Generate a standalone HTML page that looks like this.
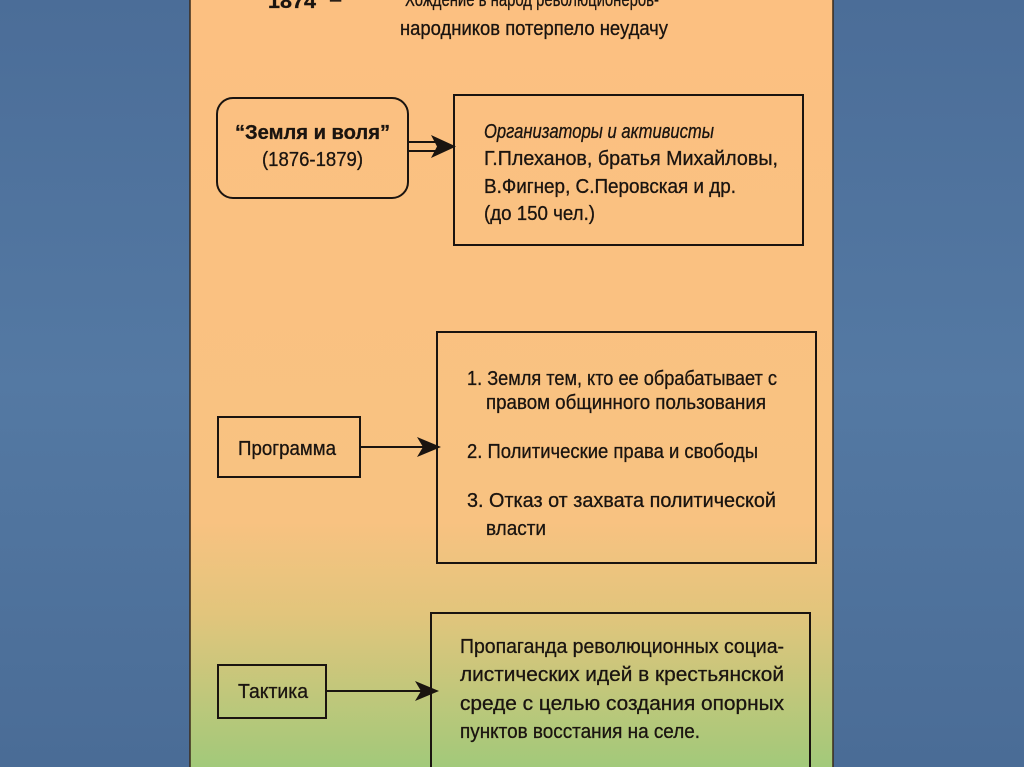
<!DOCTYPE html>
<html><head><meta charset="utf-8">
<style>
html,body{margin:0;padding:0;width:1024px;height:767px;overflow:hidden;background:#4d7099;}
svg{display:block}
text{font-family:"Liberation Sans Narrow","Liberation Sans",sans-serif;fill:#1a1410;font-size:20px;stroke:#1a1410;stroke-width:0.3;}
</style></head><body>
<svg width="1024" height="767" viewBox="0 0 1024 767" xmlns="http://www.w3.org/2000/svg">
<defs>
<linearGradient id="bg" x1="0" y1="0" x2="0" y2="1">
<stop offset="0" stop-color="#4b6d98"/><stop offset="0.5" stop-color="#5479a3"/><stop offset="1" stop-color="#4a6c96"/>
</linearGradient>
<linearGradient id="pn" x1="0" y1="0" x2="0" y2="767" gradientUnits="userSpaceOnUse">
<stop offset="0" stop-color="#fcc081"/>
<stop offset="0.68" stop-color="#f8c281"/>
<stop offset="0.8" stop-color="#e2c57c"/>
<stop offset="1" stop-color="#a2c97a"/>
</linearGradient>
</defs>
<rect width="1024" height="767" fill="url(#bg)"/>
<rect x="190" y="-2" width="643" height="772" fill="url(#pn)" stroke="#3a2a1a" stroke-width="1.5"/>

<g stroke="#1a1410" stroke-width="2" fill="none">
<rect x="217" y="98" width="191" height="100" rx="16"/>
<rect x="454" y="95" width="349" height="150"/>
<rect x="437" y="332" width="379" height="231"/>
<rect x="218" y="417" width="142" height="60"/>
<rect x="218" y="665" width="108" height="53"/>
<rect x="431" y="613" width="379" height="170"/>
<line x1="408" y1="142" x2="436" y2="142"/>
<line x1="408" y1="151" x2="436" y2="151"/>
<line x1="360" y1="447" x2="425" y2="447"/>
<line x1="326" y1="691" x2="424" y2="691"/>
</g>
<g fill="#1a1410">
<polygon points="431,135 456,146.5 431,158 437,146.5"/>
<polygon points="417,437 441,447 417,457 423,447"/>
<polygon points="415,681 439,691 415,701 421,691"/>
</g>

<text x="268" y="8" font-weight="bold" textLength="48" lengthAdjust="spacingAndGlyphs">1874</text>
<text x="330" y="6">–</text>
<text x="405" y="6" textLength="254" lengthAdjust="spacingAndGlyphs">Хождение в народ революционеров-</text>
<text x="400" y="35" textLength="268" lengthAdjust="spacingAndGlyphs">народников потерпело неудачу</text>

<text x="235" y="139" font-weight="bold" textLength="155" lengthAdjust="spacingAndGlyphs">“Земля и воля”</text>
<text x="262" y="166" textLength="101" lengthAdjust="spacingAndGlyphs">(1876-1879)</text>

<text x="484" y="138" font-style="italic" textLength="230" lengthAdjust="spacingAndGlyphs">Организаторы и активисты</text>
<text x="484" y="165" textLength="294" lengthAdjust="spacingAndGlyphs">Г.Плеханов,  братья  Михайловы,</text>
<text x="484" y="193" textLength="252" lengthAdjust="spacingAndGlyphs">В.Фигнер, С.Перовская и др.</text>
<text x="484" y="220" textLength="111" lengthAdjust="spacingAndGlyphs">(до 150 чел.)</text>

<text x="238" y="455" textLength="98" lengthAdjust="spacingAndGlyphs">Программа</text>
<text x="467" y="385" textLength="310" lengthAdjust="spacingAndGlyphs">1. Земля тем, кто ее обрабатывает с</text>
<text x="486" y="409" textLength="280" lengthAdjust="spacingAndGlyphs">правом общинного пользования</text>
<text x="467" y="458" textLength="291" lengthAdjust="spacingAndGlyphs">2. Политические права и свободы</text>
<text x="467" y="507" textLength="309" lengthAdjust="spacingAndGlyphs">3.  Отказ  от  захвата  политической</text>
<text x="486" y="535" textLength="60" lengthAdjust="spacingAndGlyphs">власти</text>

<text x="238" y="698" textLength="70" lengthAdjust="spacingAndGlyphs">Тактика</text>
<text x="460" y="653" textLength="324" lengthAdjust="spacingAndGlyphs">Пропаганда революционных социа-</text>
<text x="460" y="681" textLength="324" lengthAdjust="spacingAndGlyphs">листических  идей  в  крестьянской</text>
<text x="460" y="710" textLength="324" lengthAdjust="spacingAndGlyphs">среде  с  целью  создания  опорных</text>
<text x="460" y="738" textLength="240" lengthAdjust="spacingAndGlyphs">пунктов восстания на селе.</text>
</svg>
</body></html>
